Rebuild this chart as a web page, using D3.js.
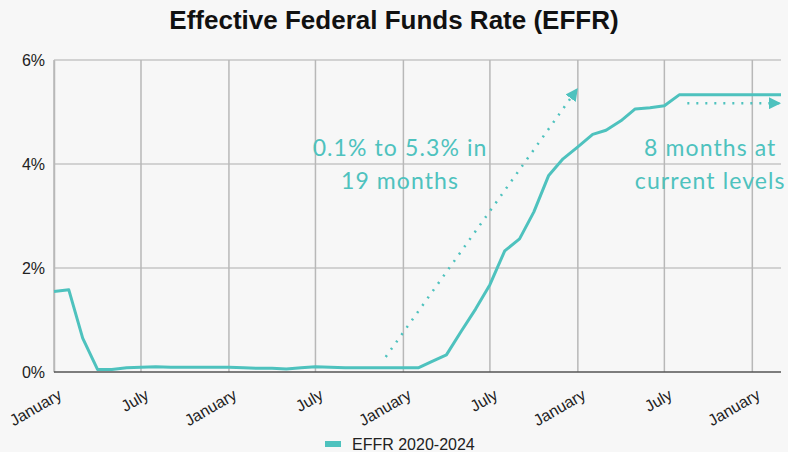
<!DOCTYPE html>
<html>
<head>
<meta charset="utf-8">
<script src="https://cdn.jsdelivr.net/npm/d3@7"></script>
<style>
  body { margin: 0; background: #f7f7f7; }
  svg { display: block; }
</style>
</head>
<body>
<div id="chart"></div>
<script>
//data
const months = [
  "2020-01","2020-02","2020-03","2020-04","2020-05","2020-06","2020-07","2020-08","2020-09","2020-10","2020-11","2020-12",
  "2021-01","2021-02","2021-03","2021-04","2021-05","2021-06","2021-07","2021-08","2021-09","2021-10","2021-11","2021-12",
  "2022-01","2022-02","2022-03","2022-04","2022-05","2022-06","2022-07","2022-08","2022-09","2022-10","2022-11","2022-12",
  "2023-01","2023-02","2023-03","2023-04","2023-05","2023-06","2023-07","2023-08","2023-09","2023-10","2023-11","2023-12",
  "2024-01","2024-02","2024-03"
];
const effr = [
  1.55, 1.58, 0.65, 0.05, 0.05, 0.08, 0.09, 0.10, 0.09, 0.09, 0.09, 0.09,
  0.09, 0.08, 0.07, 0.07, 0.06, 0.08, 0.10, 0.09, 0.08, 0.08, 0.08, 0.08,
  0.08, 0.08, 0.20, 0.33, 0.77, 1.21, 1.68, 2.33, 2.56, 3.08, 3.78, 4.10,
  4.33, 4.57, 4.65, 4.83, 5.06, 5.08, 5.12, 5.33, 5.33, 5.33, 5.33, 5.33,
  5.33, 5.33, 5.33
];
const yTicks = [0, 2, 4, 6];
const seriesName = "EFFR 2020-2024";
const title = "Effective Federal Funds Rate (EFFR)";

// annotations: [start date, start %, end date, end %]
const arrows = [
  { from: ["2021-11-25", 0.29], to: ["2023-01-01", 5.46] },
  { from: ["2023-08-18", 5.17], to: ["2024-03-01", 5.17] }
];
const notes = [
  { at: "2021-12-25", lines: ["0.1% to 5.3% in", "19 months"] },
  { at: "2023-10-05", lines: ["8 months at", "current levels"] }
];

//size
const width = 788, height = 452;
const margin = { top: 60, right: 7, bottom: 80, left: 54 };
const color = "#4ec2be";
const parse = d3.timeParse("%Y-%m");
const parseDay = d3.timeParse("%Y-%m-%d");
const font = "Liberation Sans, Arial, sans-serif";

const data = months.map((m, i) => ({ date: parse(m), value: effr[i] }));

const svg = d3.select("#chart").append("svg")
  .attr("width", width)
  .attr("height", height);

const x = d3.scaleTime()
  .domain(d3.extent(data, d => d.date))
  .range([margin.left, width - margin.right]);
const y = d3.scaleLinear()
  .domain([0, 6])
  .range([height - margin.bottom, margin.top]);

//title
svg.append("text")
  .attr("x", width / 2)
  .attr("y", 29)
  .attr("text-anchor", "middle")
  .attr("font-family", font)
  .attr("font-weight", "bold")
  .attr("font-size", 26)
  .attr("fill", "#111")
  .text(title);

//grid
const xTicks = x.ticks(d3.timeMonth.every(6));
svg.append("g")
  .selectAll("line")
  .data(yTicks.filter(d => d > 0))
  .join("line")
  .attr("x1", margin.left)
  .attr("x2", width - margin.right)
  .attr("y1", d => y(d))
  .attr("y2", d => y(d))
  .attr("stroke", "#c6c6c6")
  .attr("stroke-width", 1.5);

svg.append("g")
  .selectAll("line")
  .data(xTicks)
  .join("line")
  .attr("x1", d => x(d))
  .attr("x2", d => x(d))
  .attr("y1", y(6))
  .attr("y2", y(0))
  .attr("stroke", "#b8b8b8")
  .attr("stroke-width", 1.5);

//axes
const yAxis = svg.append("g")
  .attr("transform", `translate(${margin.left},0)`)
  .call(d3.axisLeft(y).tickValues(yTicks).tickSize(0).tickPadding(9).tickFormat(d => d + "%"));
yAxis.select(".domain").attr("stroke", "#b8b8b8").attr("stroke-width", 1.5);
yAxis.selectAll("text")
  .attr("font-family", font)
  .attr("font-size", 16)
  .attr("fill", "#222");

svg.append("line")
  .attr("x1", margin.left)
  .attr("x2", width - margin.right)
  .attr("y1", y(0))
  .attr("y2", y(0))
  .attr("stroke", "#555")
  .attr("stroke-width", 1.5);

svg.append("g")
  .selectAll("text")
  .data(xTicks)
  .join("text")
  .attr("transform", d => `translate(${x(d) + 9},${y(0) + 26}) rotate(-30)`)
  .attr("text-anchor", "end")
  .attr("font-family", font)
  .attr("font-size", 16)
  .attr("fill", "#222")
  .text(d => d3.timeFormat("%B")(d));

//line
const line = d3.line()
  .x(d => x(d.date))
  .y(d => y(d.value));
svg.append("path")
  .datum(data)
  .attr("fill", "none")
  .attr("stroke", color)
  .attr("stroke-width", 3)
  .attr("stroke-linejoin", "round")
  .attr("d", line);

//annotations
svg.append("defs").append("marker")
  .attr("id", "arrow")
  .attr("viewBox", "0 0 10 10")
  .attr("refX", 10)
  .attr("refY", 5)
  .attr("markerWidth", 5)
  .attr("markerHeight", 5)
  .attr("markerUnits", "strokeWidth")
  .attr("orient", "auto")
  .append("path")
  .attr("d", "M0,0L10,5L0,10Z")
  .attr("fill", color);

svg.append("g")
  .selectAll("line")
  .data(arrows)
  .join("line")
  .attr("x1", d => x(parseDay(d.from[0])))
  .attr("y1", d => y(d.from[1]))
  .attr("x2", d => x(parseDay(d.to[0])))
  .attr("y2", d => y(d.to[1]))
  .attr("stroke", color)
  .attr("stroke-width", 2.5)
  .attr("stroke-dasharray", "2 7")
  .attr("marker-end", "url(#arrow)");

const noteText = svg.append("g")
  .selectAll("text")
  .data(notes)
  .join("text")
  .attr("text-anchor", "middle")
  .attr("font-family", "Lato, sans-serif")
  .attr("font-size", 23)
  .attr("letter-spacing", 1.1)
  .attr("fill", color);
noteText.selectAll("tspan")
  .data(d => d.lines.map((l, i) => ({ l, i, xx: x(parseDay(d.at)) })))
  .join("tspan")
  .attr("x", d => d.xx)
  .attr("y", d => 156 + d.i * 33)
  .text(d => d.l);

//legend
const legend = svg.append("g").attr("transform", `translate(325,444)`);
legend.append("rect")
  .attr("width", 16)
  .attr("height", 6)
  .attr("y", -3)
  .attr("fill", color);
legend.append("text")
  .attr("x", 27)
  .attr("y", 6)
  .attr("font-family", font)
  .attr("font-size", 16)
  .attr("fill", "#222")
  .text(seriesName);
</script>
</body>
</html>
